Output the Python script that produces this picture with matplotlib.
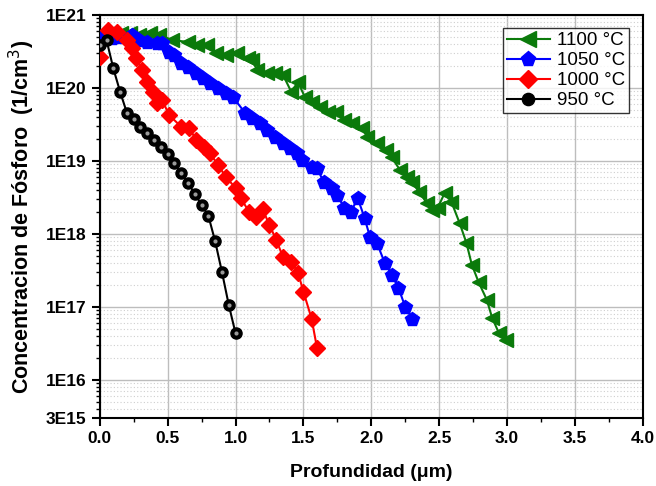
import numpy as np
import matplotlib
matplotlib.use("Agg")
import matplotlib.pyplot as plt
from matplotlib.ticker import FixedLocator, LogLocator, NullFormatter, MultipleLocator

plt.rcParams['font.family'] = ['Liberation Sans', 'DejaVu Sans']

# perfiles de difusion de fosforo (profundidad en um, log10 de la concentracion)
x_950 = [0.0, 0.05, 0.1, 0.15, 0.2, 0.25, 0.3, 0.35, 0.4, 0.45, 0.5, 0.55, 0.6,
         0.65, 0.7, 0.75, 0.8, 0.85, 0.9, 0.95, 1.0]
log_950 = [20.59, 20.66, 20.27, 19.95, 19.66, 19.57, 19.47, 19.38, 19.29, 19.19, 19.10,
           18.97, 18.84, 18.70, 18.55, 18.40, 18.25, 17.90, 17.48, 17.03, 16.64]

x_1000 = [0.0, 0.06, 0.125, 0.2, 0.235, 0.27, 0.31, 0.35, 0.39, 0.42, 0.46, 0.51, 0.6,
          0.66, 0.71, 0.77, 0.81, 0.87, 0.93, 1.0, 1.04, 1.1, 1.15, 1.2, 1.25, 1.3,
          1.35, 1.41, 1.46, 1.5, 1.56, 1.6]
log_1000 = [20.42, 20.79, 20.77, 20.66, 20.55, 20.41, 20.25, 20.08, 19.95, 19.79, 19.84,
            19.63, 19.47, 19.45, 19.29, 19.19, 19.11, 18.95, 18.78, 18.63, 18.49, 18.30,
            18.23, 18.34, 18.12, 17.92, 17.68, 17.62, 17.47, 17.21, 16.84, 16.44]

x_1050 = [0.02, 0.09, 0.16, 0.235, 0.29, 0.35, 0.42, 0.46, 0.51, 0.55, 0.6, 0.65, 0.71,
          0.76, 0.81, 0.87, 0.93, 0.98, 1.07, 1.12, 1.18, 1.23, 1.29, 1.35, 1.4, 1.45,
          1.49, 1.56, 1.6, 1.65, 1.71, 1.75, 1.8, 1.85, 1.9, 1.95, 1.99, 2.04, 2.1,
          2.15, 2.2, 2.25, 2.3]
log_1050 = [20.70, 20.68, 20.70, 20.73, 20.66, 20.63, 20.62, 20.62, 20.49, 20.45, 20.34,
            20.29, 20.21, 20.14, 20.07, 20.00, 19.93, 19.88, 19.66, 19.59, 19.52, 19.42,
            19.33, 19.25, 19.18, 19.11, 19.01, 18.92, 18.90, 18.71, 18.63, 18.53, 18.36,
            18.30, 18.49, 18.22, 17.96, 17.88, 17.60, 17.44, 17.26, 17.00, 16.84]

x_1100 = [0.16, 0.22, 0.29, 0.37, 0.44, 0.53, 0.65, 0.72, 0.79, 0.86, 0.93, 1.01, 1.09,
          1.12, 1.16, 1.23, 1.29, 1.35, 1.41, 1.46, 1.51, 1.56, 1.62, 1.68, 1.74, 1.8,
          1.86, 1.93, 1.97, 2.04, 2.11, 2.15, 2.21, 2.26, 2.3, 2.35, 2.41, 2.45, 2.49,
          2.54, 2.59, 2.65, 2.7, 2.74, 2.79, 2.85, 2.89, 2.94, 2.99]
log_1100 = [20.75, 20.75, 20.73, 20.75, 20.73, 20.66, 20.63, 20.59, 20.59, 20.48, 20.45,
            20.48, 20.41, 20.38, 20.25, 20.21, 20.21, 20.18, 19.95, 20.08, 19.88, 19.81,
            19.74, 19.67, 19.67, 19.56, 19.52, 19.45, 19.33, 19.25, 19.15, 19.05, 18.88,
            18.78, 18.71, 18.58, 18.42, 18.33, 18.36, 18.56, 18.44, 18.15, 17.88, 17.58,
            17.34, 17.10, 16.85, 16.64, 16.55]

series = [
    ('1100 °C', x_1100, log_1100, '#0b7a0b', '<', 10),
    ('1050 °C', x_1050, log_1050, '#0000ff', 'p', 10),
    ('1000 °C', x_1000, log_1000, '#ff0000', 'D', 8),
    ('950 °C', x_950, log_950, 'black', 'o', 8),
]

fig = plt.figure(figsize=(6.56, 4.86), dpi=100)
ax = fig.add_axes([0.152, 0.14, 0.828, 0.829])

for label, xs, logs, color, marker, ms in series:
    ys = 10.0 ** np.array(logs)
    ax.plot(xs, ys, color=color, marker=marker, markersize=ms, lw=1.5,
            markeredgecolor=color, label=label, zorder=3)
    if marker == 'o':
        # brillo de las esferas
        ax.plot(xs, ys, ls='none', marker='o', markersize=3, color='#9a9a9a',
                markeredgewidth=0, zorder=4)

ax.set_yscale('log')
ax.set_xlim(0, 4.0)
ax.set_ylim(3e15, 1e21)

ax.xaxis.set_minor_locator(MultipleLocator(0.25))
ax.set_xticks(np.arange(0, 4.01, 0.5))
ax.set_xticklabels([f'{v:.1f}' for v in np.arange(0, 4.01, 0.5)])

yticks = [3e15, 1e16, 1e17, 1e18, 1e19, 1e20, 1e21]
ylabels = ['3E15', '1E16', '1E17', '1E18', '1E19', '1E20', '1E21']
ax.yaxis.set_major_locator(FixedLocator(yticks))
ax.set_yticklabels(ylabels)
ax.yaxis.set_minor_locator(LogLocator(base=10, subs=np.arange(2, 10)))
ax.yaxis.set_minor_formatter(NullFormatter())

ax.tick_params(axis='both', which='major', direction='out', length=6, width=1.5,
               labelsize=12.5, top=False, right=False)
ax.tick_params(axis='both', which='minor', direction='out', length=3, width=1,
               top=False, right=False)
for lab in ax.get_xticklabels() + ax.get_yticklabels():
    lab.set_fontweight('bold')

ax.grid(True, which='major', color='#bdbdbd', lw=1.0, zorder=0)
ax.grid(True, which='minor', axis='y', color='#cfcfcf', lw=0.8, ls=(0, (1, 2)), zorder=0)
ax.set_axisbelow(True)
for sp in ax.spines.values():
    sp.set_linewidth(1.5)

ax.set_xlabel('Profundidad (\u03bcm)', fontsize=14, fontweight='bold', labelpad=13)
ax.set_ylabel('Concentracion de Fósforo  (1/cm$^3$)', fontsize=15.5, fontweight='bold',
              labelpad=6)

leg = ax.legend(loc='upper right', bbox_to_anchor=(0.992, 0.99), fontsize=13.5,
                frameon=True, fancybox=False, edgecolor='black', handlelength=2.3,
                borderpad=0.2, labelspacing=0.15, handletextpad=0.4, markerscale=1.1)
leg.get_frame().set_linewidth(1.0)

fig.savefig('out.png', dpi=100)
